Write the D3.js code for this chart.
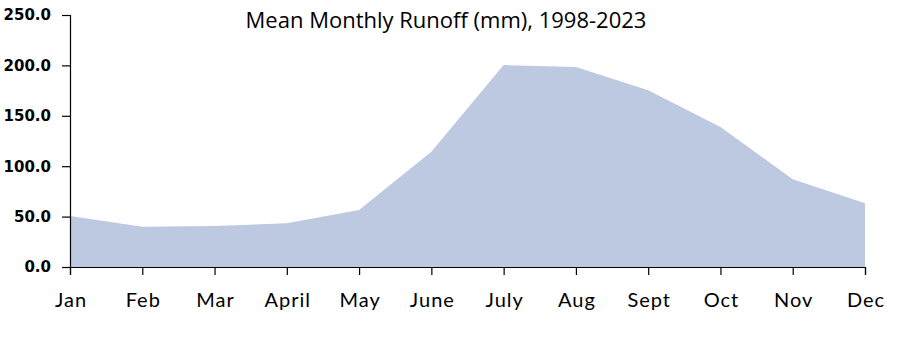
<!DOCTYPE html>
<html>
<head>
<meta charset="utf-8">
<script src="https://cdn.jsdelivr.net/npm/d3@7"></script>
<style>
  body { margin: 0; background: #fff; }
  #chart { width: 897px; height: 337px; }
</style>
</head>
<body>
<div id="chart"></div>
<script>
// Mean monthly runoff
const months = ['Jan', 'Feb', 'Mar', 'April', 'May', 'June', 'July', 'Aug', 'Sept', 'Oct', 'Nov', 'Dec'];
const runoff = [50.6, 40.0, 40.7, 43.3, 56.5, 114.4, 200.3, 198.3, 175.3, 139.0, 87.0, 63.2];
const yTicks = [0, 50, 100, 150, 200, 250];
const title = 'Mean Monthly Runoff (mm), 1998-2023';

const margin = { top: 15, right: 32, bottom: 70, left: 70 };
const width = 897 - margin.left - margin.right;
const height = 337 - margin.top - margin.bottom;

const svg = d3.select('#chart')
    .append('svg')
    .attr('width', 897)
    .attr('height', 337)
    .append('g')
    .attr('transform', `translate(${margin.left},${margin.top})`);

const x = d3.scalePoint().domain(months).range([0, width]);
const y = d3.scaleLinear().domain([0, 250]).range([height, 0]);

const data = months.map((m, i) => ({ month: m, value: runoff[i] }));

// Area
svg.append('path')
    .datum(data)
    .attr('fill', '#bcc9e1')
    .attr('d', d3.area()
        .x(d => x(d.month))
        .y0(y(0))
        .y1(d => y(d.value)));

// Y axis
const yAxis = svg.append('g')
    .call(d3.axisLeft(y).tickValues(yTicks).tickFormat(d3.format('.1f')).tickSizeOuter(0).tickSize(8).tickPadding(11));
yAxis.selectAll('text')
    .style('font-family', 'DejaVu Sans, Verdana, sans-serif')
    .style('font-weight', 'bold')
    .style('font-size', '15px')
    .attr('fill', '#000');

// X axis
const xAxis = svg.append('g')
    .attr('transform', `translate(0,${height})`)
    .call(d3.axisBottom(x).tickSizeOuter(0).tickSize(8).tickPadding(18));
xAxis.selectAll('text')
    .style('font-family', 'Lato, "Open Sans", sans-serif')
    .style('font-size', '20px')
    .style('letter-spacing', '1px')
    .attr('dx', '0.5')
    .attr('fill', '#000');

svg.selectAll('.domain, .tick line').attr('stroke', '#000').attr('stroke-width', 1.2);

// Title
svg.append('text')
    .attr('x', 446 - margin.left)
    .attr('y', 28 - margin.top)
    .attr('text-anchor', 'middle')
    .style('font-family', '"Open Sans", Lato, sans-serif')
    .style('font-size', '22px')
    .attr('fill', '#000')
    .text(title);
</script>
</body>
</html>
